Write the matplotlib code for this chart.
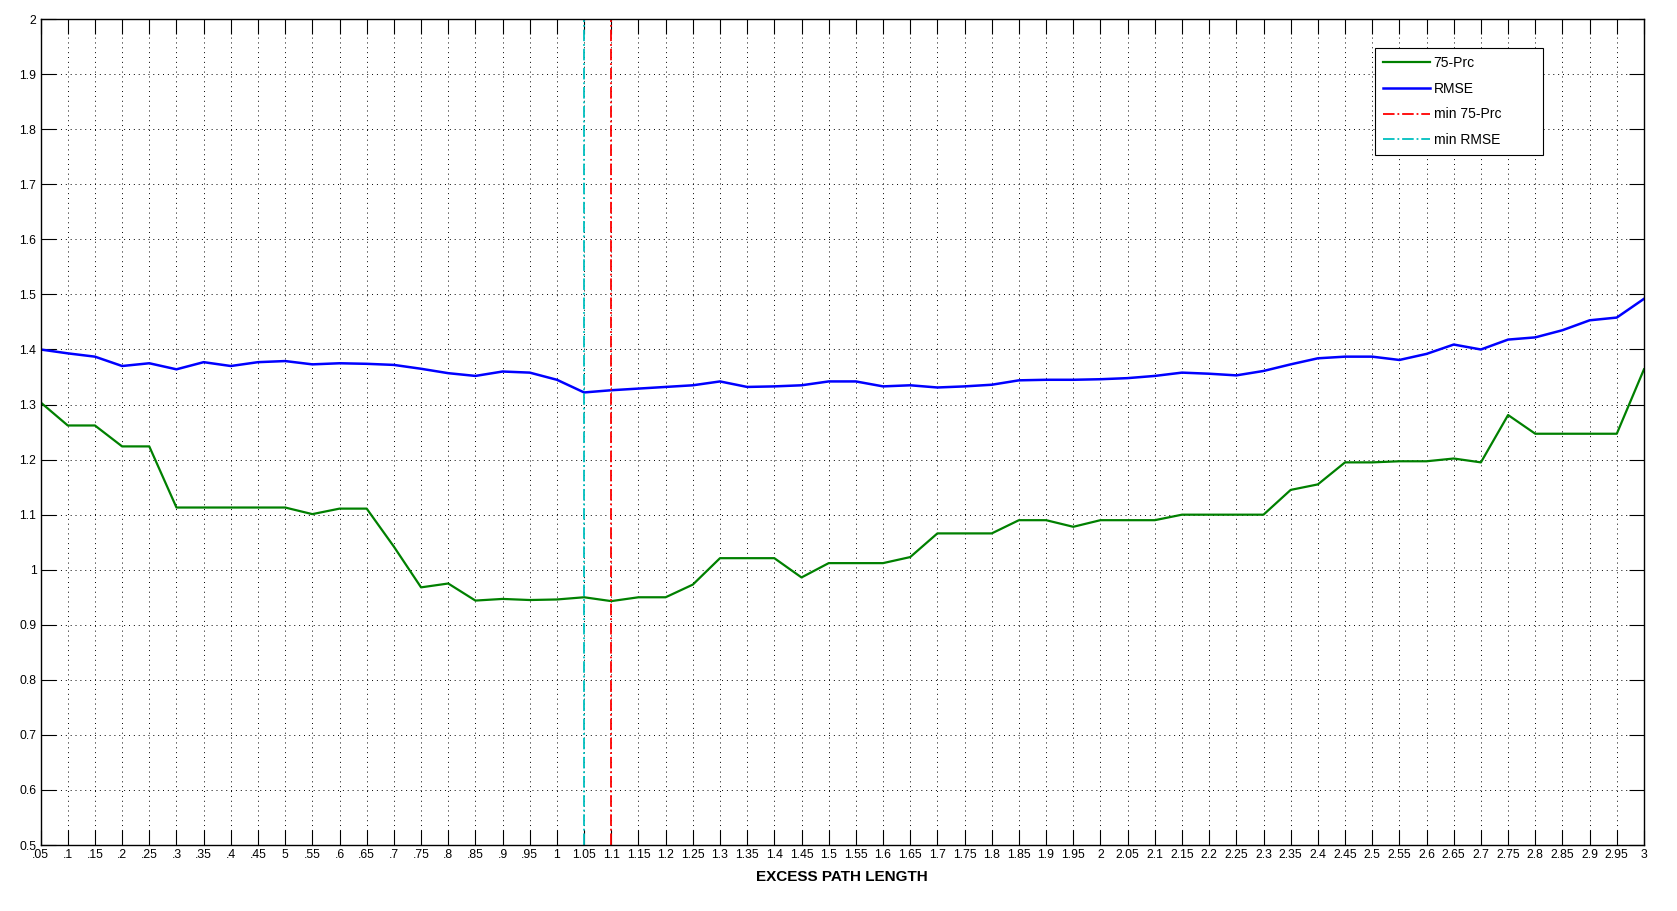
import numpy as np
import matplotlib
matplotlib.use('Agg')
import matplotlib.pyplot as plt

# excess path length, 0.05 .. 3
path_len = [0.05, 0.1, 0.15, 0.2, 0.25, 0.3, 0.35, 0.4, 0.45, 0.5,
            0.55, 0.6, 0.65, 0.7, 0.75, 0.8, 0.85, 0.9, 0.95, 1.0,
            1.05, 1.1, 1.15, 1.2, 1.25, 1.3, 1.35, 1.4, 1.45, 1.5,
            1.55, 1.6, 1.65, 1.7, 1.75, 1.8, 1.85, 1.9, 1.95, 2.0,
            2.05, 2.1, 2.15, 2.2, 2.25, 2.3, 2.35, 2.4, 2.45, 2.5,
            2.55, 2.6, 2.65, 2.7, 2.75, 2.8, 2.85, 2.9, 2.95, 3.0]

prc75 = [1.304, 1.262, 1.262, 1.224, 1.224, 1.113, 1.113, 1.113, 1.113, 1.113,
         1.101, 1.111, 1.111, 1.042, 0.968, 0.975, 0.944, 0.947, 0.945, 0.946,
         0.950, 0.943, 0.950, 0.950, 0.973, 1.021, 1.021, 1.021, 0.986, 1.012,
         1.012, 1.012, 1.023, 1.066, 1.066, 1.066, 1.090, 1.090, 1.078, 1.090,
         1.090, 1.090, 1.100, 1.100, 1.100, 1.100, 1.145, 1.155, 1.195, 1.195,
         1.197, 1.197, 1.202, 1.195, 1.281, 1.247, 1.247, 1.247, 1.247, 1.364]

rmse = [1.400, 1.393, 1.387, 1.370, 1.375, 1.364, 1.377, 1.370, 1.377, 1.379,
        1.373, 1.375, 1.374, 1.372, 1.365, 1.357, 1.352, 1.360, 1.358, 1.345,
        1.322, 1.326, 1.329, 1.332, 1.335, 1.342, 1.332, 1.333, 1.335, 1.342,
        1.342, 1.333, 1.335, 1.331, 1.333, 1.336, 1.344, 1.345, 1.345, 1.346,
        1.348, 1.352, 1.358, 1.356, 1.353, 1.361, 1.373, 1.384, 1.387, 1.387,
        1.381, 1.392, 1.409, 1.400, 1.418, 1.422, 1.435, 1.453, 1.458, 1.492]

min_prc_x = 1.1
min_rmse_x = 1.05

xtick_labels = ['.05', '.1', '.15', '.2', '.25', '.3', '.35', '.4', '.45', '5',
                '.55', '.6', '.65', '.7', '.75', '.8', '.85', '.9', '.95', '1',
                '1.05', '1.1', '1.15', '1.2', '1.25', '1.3', '1.35', '1.4', '1.45', '1.5',
                '1.55', '1.6', '1.65', '1.7', '1.75', '1.8', '1.85', '1.9', '1.95', '2',
                '2.05', '2.1', '2.15', '2.2', '2.25', '2.3', '2.35', '2.4', '2.45', '2.5',
                '2.55', '2.6', '2.65', '2.7', '2.75', '2.8', '2.85', '2.9', '2.95', '3']
yticks = [0.5, 0.6, 0.7, 0.8, 0.9, 1.0, 1.1, 1.2, 1.3, 1.4, 1.5, 1.6, 1.7, 1.8, 1.9, 2.0]
ytick_labels = ['0.5', '0.6', '0.7', '0.8', '0.9', '1', '1.1', '1.2', '1.3', '1.4',
                '1.5', '1.6', '1.7', '1.8', '1.9', '2']

plt.rcParams['font.family'] = ['Liberation Sans', 'DejaVu Sans']

fig = plt.figure(figsize=(16.77, 9.11), dpi=100)
ax = fig.add_axes([0.0242, 0.0724, 0.9561, 0.9066])

ax.plot(path_len, prc75, color=(0, 0.5, 0), lw=1.6, label='75-Prc')
ax.plot(path_len, rmse, color=(0, 0, 1), lw=1.8, label='RMSE')
ax.axvline(min_prc_x, color=(1, 0, 0), lw=1.3, ls='-.', label='min 75-Prc')
ax.axvline(min_rmse_x, color=(0, 0.75, 0.75), lw=1.3, ls='-.', label='min RMSE')

ax.set_xlim(0.05, 3.0)
ax.set_ylim(0.5, 2.0)
ax.set_xticks(path_len)
ax.set_xticklabels(xtick_labels, fontsize=8.8)
ax.set_yticks(yticks)
ax.set_yticklabels(ytick_labels, fontsize=8.8)
ax.tick_params(direction='in', length=11, width=0.8, top=True, right=True, pad=3)
ax.grid(True, color='black', ls=(0, (1, 4)), lw=0.7)
for s in ax.spines.values():
    s.set_linewidth(1.0)

ax.set_xlabel('EXCESS PATH LENGTH', fontsize=11, fontweight='bold', labelpad=6)

# box stretched to the same width as the original legend
leg = ax.legend(loc='upper left', bbox_to_anchor=(0.8324, 0.8378, 0.1048, 0.1271),
                mode='expand', fontsize=10,
                fancybox=False, framealpha=1, edgecolor='black',
                handlelength=3.4, handletextpad=0.25, labelspacing=0.85,
                borderpad=0.55, borderaxespad=0)
leg.get_frame().set_linewidth(0.8)

fig.savefig('out.png', dpi=100)
